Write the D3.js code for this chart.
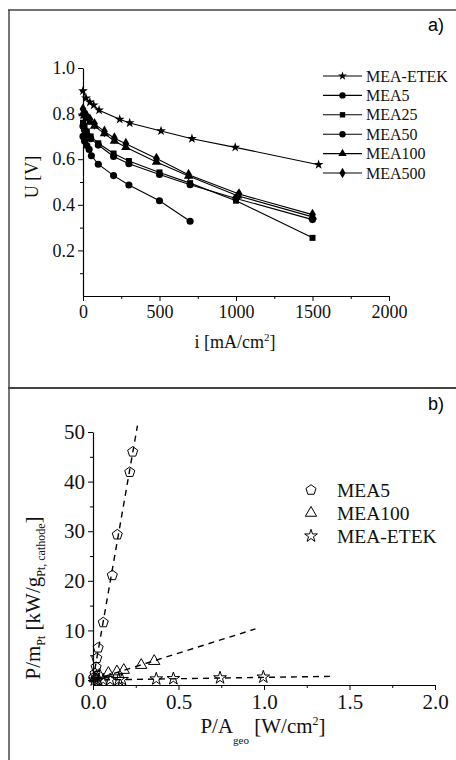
<!DOCTYPE html>
<html><head><meta charset="utf-8">
<script src="https://cdn.jsdelivr.net/npm/d3@7"></script>
<style>body{margin:0;background:#fff}svg{display:block}</style>
</head><body>
<script>
// ---------- Panel a) data: polarisation curves ----------
const seriesA = ["MEA-ETEK", "MEA5", "MEA25", "MEA50", "MEA100", "MEA500"];
const iEtek   = [0, 20, 45, 70, 105, 240, 305, 510, 712, 995, 1540];
const uEtek   = [0.900, 0.868, 0.850, 0.837, 0.815, 0.775, 0.759, 0.724, 0.690, 0.652, 0.576];
const iMea5   = [0, 10, 25, 50, 100, 200, 300, 500, 700, 1000, 1500];
const uMea5   = [0.745, 0.728, 0.708, 0.690, 0.662, 0.612, 0.580, 0.533, 0.488, 0.428, 0.335];
const iMea25  = [0, 10, 25, 50, 100, 200, 300, 500, 700, 1000, 1500];
const uMea25  = [0.760, 0.742, 0.722, 0.700, 0.670, 0.625, 0.592, 0.542, 0.495, 0.418, 0.255];
const iMea50  = [0, 10, 25, 40, 55, 100, 200, 300, 500, 700];
const uMea50  = [0.700, 0.680, 0.660, 0.643, 0.615, 0.578, 0.528, 0.487, 0.418, 0.328];
const iMea100 = [0, 10, 25, 45, 75, 140, 205, 280, 480, 690, 1010, 1500];
const uMea100 = [0.800, 0.790, 0.778, 0.763, 0.745, 0.712, 0.680, 0.652, 0.588, 0.526, 0.440, 0.347];
const iMea500 = [0, 10, 25, 45, 75, 140, 205, 280, 480, 690, 1020, 1500];
const uMea500 = [0.820, 0.805, 0.790, 0.775, 0.755, 0.722, 0.692, 0.668, 0.603, 0.532, 0.447, 0.357];
const xTicksA = [0, 500, 1000, 1500, 2000];
const yTicksA = [0.2, 0.4, 0.6, 0.8, 1.0];

// ---------- Panel b) data: mass specific power ----------
const seriesB = ["MEA5", "MEA100", "MEA-ETEK"];
const pMea5    = [0.005, 0.012, 0.018, 0.022, 0.030, 0.060, 0.113, 0.142, 0.215, 0.232];
const pmMea5   = [0.5, 1.3, 2.6, 4.4, 6.5, 11.6, 21.1, 29.3, 41.9, 46.0];
const pMea100  = [0.010, 0.020, 0.037, 0.090, 0.140, 0.180, 0.282, 0.358];
const pmMea100 = [0.3, 0.7, 1.0, 1.4, 1.7, 2.0, 3.0, 3.8];
const pEtek    = [0.01, 0.03, 0.06, 0.10, 0.15, 0.17, 0.37, 0.47, 0.743, 0.996];
const pmEtek   = [0.01, 0.02, 0.04, 0.06, 0.09, 0.10, 0.22, 0.28, 0.44, 0.60];
const fitMea5P  = [0, 0.26],  fitMea5Pm  = [0, 51.3];
const fitMea100P = [0, 0.95], fitMea100Pm = [0, 10.3];
const fitEtekP  = [0, 1.4],   fitEtekPm  = [0, 0.75];
const xTicksB = [0, 0.5, 1.0, 1.5, 2.0];
const yTicksB = [0, 10, 20, 30, 40, 50];

// ---------- helpers ----------
const zip = (a, b) => a.map((v, k) => [v, b[k]]);
const serif = "'Liberation Serif','Times New Roman',serif";
const sans = "'Liberation Sans',Arial,sans-serif";
const pentagon = {
  draw(ctx, size) {
    const r = Math.sqrt(size);
    for (let k = 0; k < 5; k++) {
      const a = -Math.PI / 2 + k * 2 * Math.PI / 5;
      const x = r * Math.cos(a), y = r * Math.sin(a);
      if (k === 0) ctx.moveTo(x, y); else ctx.lineTo(x, y);
    }
    ctx.closePath();
  }
};

const W = 456, H = 760;
const svg = d3.select("body").append("svg").attr("width", W).attr("height", H);

// frame
svg.append("line").attr("x1", 9).attr("x2", 9).attr("y1", 10).attr("y2", H)
  .attr("stroke", "#777").attr("stroke-width", 2);
svg.append("line").attr("x1", 8).attr("x2", W).attr("y1", 10).attr("y2", 10)
  .attr("stroke", "#444").attr("stroke-width", 1.5);
svg.append("line").attr("x1", 8).attr("x2", W).attr("y1", 388).attr("y2", 388)
  .attr("stroke", "#444").attr("stroke-width", 1.8);

svg.append("text").attr("x", 428).attr("y", 31).attr("font-family", sans)
  .attr("font-size", 18).text("a)");
svg.append("text").attr("x", 428).attr("y", 410).attr("font-family", sans)
  .attr("font-size", 18).text("b)");

function drawAxes(g, x, y, xt, yt, xMinor, yMinor, xFmt, yFmt, fs, padX, padY) {
  const gx = g.append("g").attr("transform", `translate(0,${y.range()[0]})`);
  gx.call(d3.axisBottom(x).tickValues(xt).tickFormat(xFmt).tickSize(5).tickSizeOuter(0).tickPadding(padX));
  gx.append("g").call(d3.axisBottom(x).tickValues(xMinor).tickFormat("").tickSize(3).tickSizeOuter(0))
    .select(".domain").remove();
  const gy = g.append("g").attr("transform", `translate(${x.range()[0]},0)`);
  gy.call(d3.axisLeft(y).tickValues(yt).tickFormat(yFmt).tickSize(5).tickSizeOuter(0).tickPadding(padY));
  gy.append("g").call(d3.axisLeft(y).tickValues(yMinor).tickFormat("").tickSize(3).tickSizeOuter(0))
    .select(".domain").remove();
  g.selectAll(".domain").attr("stroke", "#000").attr("stroke-width", 1.2);
  g.selectAll(".tick line").attr("stroke", "#000").attr("stroke-width", 1);
  g.selectAll("g").attr("font-family", serif);
  g.selectAll(".tick text").attr("font-family", serif).attr("font-size", fs).attr("fill", "#111");
}

// ---------- Panel a ----------
const xA = d3.scaleLinear().domain([0, 2000]).range([83, 389]);
const yA = d3.scaleLinear().domain([0, 1.0]).range([296, 68]);
const gA = svg.append("g");
drawAxes(gA, xA, yA, xTicksA, yTicksA, [250, 750, 1250, 1750], [0.1, 0.3, 0.5, 0.7, 0.9],
  d3.format("d"), d3.format(".1f"), 18, 4, 3);

const symA = {
  "MEA-ETEK": d3.symbolStar, "MEA5": d3.symbolCircle, "MEA25": d3.symbolSquare,
  "MEA50": d3.symbolCircle, "MEA100": d3.symbolTriangle, "MEA500": d3.symbolDiamond
};
const sizeA = { "MEA-ETEK": 30, "MEA5": 40, "MEA25": 36, "MEA50": 40, "MEA100": 38, "MEA500": 40 };
const dataA = {
  "MEA-ETEK": zip(iEtek, uEtek), "MEA5": zip(iMea5, uMea5), "MEA25": zip(iMea25, uMea25),
  "MEA50": zip(iMea50, uMea50), "MEA100": zip(iMea100, uMea100), "MEA500": zip(iMea500, uMea500)
};
const lineA = d3.line().x(d => xA(d[0])).y(d => yA(d[1]));
seriesA.forEach(s => {
  gA.append("path").datum(dataA[s]).attr("d", lineA).attr("fill", "none")
    .attr("stroke", "#000").attr("stroke-width", 1.1);
});
seriesA.forEach(s => {
  gA.selectAll(null).data(dataA[s]).enter().append("path")
    .attr("transform", d => `translate(${xA(d[0])},${yA(d[1])})`)
    .attr("d", d3.symbol(symA[s], sizeA[s])).attr("fill", "#000");
});
// legend a
seriesA.forEach((s, k) => {
  const ly = 76 + k * 19.4;
  gA.append("line").attr("x1", 323).attr("x2", 362).attr("y1", ly).attr("y2", ly)
    .attr("stroke", "#000").attr("stroke-width", 1.1);
  gA.append("path").attr("transform", `translate(342.5,${ly})`)
    .attr("d", d3.symbol(symA[s], sizeA[s] * 0.8)).attr("fill", "#000");
  gA.append("text").attr("x", 366).attr("y", ly).attr("dy", "0.35em")
    .attr("font-family", serif).attr("font-size", 16).attr("fill", "#111").text(s);
});
// axis titles a
const txA = gA.append("text").attr("x", 235).attr("y", 348).attr("text-anchor", "middle")
  .attr("font-family", serif).attr("font-size", 18).attr("fill", "#111");
txA.append("tspan").text("i [mA/cm");
txA.append("tspan").attr("font-size", 11).attr("dy", -7).text("2");
txA.append("tspan").attr("dy", 7).text("]");
gA.append("text").attr("transform", "translate(38,177) rotate(-90)").attr("text-anchor", "middle")
  .attr("font-family", serif).attr("font-size", 18).attr("fill", "#111").text("U [V]");

// ---------- Panel b ----------
const xB = d3.scaleLinear().domain([0, 2.0]).range([93, 435]);
const yB = d3.scaleLinear().domain([-1, 50]).range([685, 432]);
const gB = svg.append("g");
drawAxes(gB, xB, yB, xTicksB, yTicksB, [0.25, 0.75, 1.25, 1.75], [5, 15, 25, 35, 45],
  d3.format(".1f"), d3.format("d"), 21, 4, 3);

const lineB = d3.line().x(d => xB(d[0])).y(d => yB(d[1]));
[zip(fitMea5P, fitMea5Pm), zip(fitMea100P, fitMea100Pm), zip(fitEtekP, fitEtekPm)].forEach(f => {
  gB.append("path").datum(f).attr("d", lineB).attr("fill", "none").attr("stroke", "#000")
    .attr("stroke-width", 1.4).attr("stroke-dasharray", "6,5");
});
const symB = { "MEA5": pentagon, "MEA100": d3.symbolTriangle, "MEA-ETEK": d3.symbolStar };
const sizeB = { "MEA5": 28, "MEA100": 55, "MEA-ETEK": 50 };
const dataB = { "MEA5": zip(pMea5, pmMea5), "MEA100": zip(pMea100, pmMea100), "MEA-ETEK": zip(pEtek, pmEtek) };
seriesB.forEach(s => {
  gB.selectAll(null).data(dataB[s]).enter().append("path")
    .attr("transform", d => `translate(${xB(d[0])},${yB(d[1])})`)
    .attr("d", d3.symbol(symB[s], sizeB[s])).attr("fill", "none")
    .attr("stroke", "#000").attr("stroke-width", 1);
});
seriesB.forEach((s, k) => {
  const ly = 490 + k * 23;
  gB.append("path").attr("transform", `translate(311,${ly})`)
    .attr("d", d3.symbol(symB[s], sizeB[s])).attr("fill", "none")
    .attr("stroke", "#000").attr("stroke-width", 1);
  gB.append("text").attr("x", 337).attr("y", ly).attr("dy", "0.35em")
    .attr("font-family", serif).attr("font-size", 19.5).attr("fill", "#111").text(s);
});
// axis titles b
const txB = gB.append("text").attr("x", 263).attr("y", 733).attr("text-anchor", "middle")
  .attr("font-family", serif).attr("font-size", 21).attr("fill", "#111");
txB.append("tspan").text("P/A");
txB.append("tspan").attr("font-size", 11).attr("dy", 11).text("geo");
txB.append("tspan").attr("dy", -11).text(" [W/cm");
txB.append("tspan").attr("font-size", 12).attr("dy", -8).text("2");
txB.append("tspan").attr("dy", 8).text("]");

const tyB = gB.append("text").attr("transform", "translate(40,598) rotate(-90)").attr("text-anchor", "middle")
  .attr("font-family", serif).attr("font-size", 21).attr("fill", "#111");
tyB.append("tspan").text("P/m");
tyB.append("tspan").attr("font-size", 12).attr("dy", 5).text("Pt");
tyB.append("tspan").attr("dy", -5).text(" [kW/g");
tyB.append("tspan").attr("font-size", 12).attr("dy", 5).text("Pt, cathode");
tyB.append("tspan").attr("dy", -5).text("]");
</script>
</body></html>
